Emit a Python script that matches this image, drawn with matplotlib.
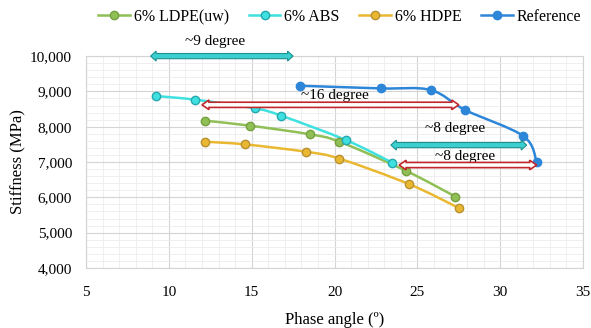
import numpy as np
import matplotlib.pyplot as plt
from matplotlib.patches import Polygon, PathPatch
from matplotlib.path import Path
from matplotlib.lines import Line2D
from matplotlib.ticker import MultipleLocator, FuncFormatter

plt.rcParams['font.family'] = ['Liberation Serif', 'DejaVu Serif']

#---- Data

ldpe_x = [12.2, 14.9, 18.5, 20.3, 24.3, 27.3]
ldpe_y = [8170, 8030, 7785, 7575, 6755, 6020]

abs_x = [9.2, 11.6, 15.2, 16.8, 20.7, 23.5]
abs_y = [8870, 8765, 8520, 8310, 7620, 6980]

hdpe_x = [12.2, 14.6, 18.3, 20.3, 24.5, 27.5]
hdpe_y = [7575, 7500, 7290, 7095, 6375, 5700]

ref_x = [17.9, 22.8, 25.8, 27.9, 31.4, 32.2]
ref_y = [9160, 9085, 9040, 8470, 7735, 7010]

# annotation arrows: (x_start, x_end, y, label, label_x, label_y, style)
arrows = [
    (8.9, 17.5, 10000, '~9 degree', 12.8, 10400, 'cyan'),
    (12.0, 27.5, 8620, '~16 degree', 20.0, 8890, 'red'),
    (23.4, 31.6, 7480, '~8 degree', 27.3, 7960, 'cyan'),
    (23.9, 32.2, 6915, '~8 degree', 27.9, 7150, 'red'),
]

#---- Smoothed line through the points (Catmull-Rom as cubic Bezier)

def smooth_path(x, y):
    p = np.column_stack((x, y)).astype(float)
    verts = [p[0]]
    codes = [Path.MOVETO]
    n = len(p)
    for i in range(n - 1):
        p0 = p[i - 1] if i > 0 else p[i]
        p3 = p[i + 2] if i + 2 < n else p[i + 1]
        c1 = p[i] + (p[i + 1] - p0) / 6.0
        c2 = p[i + 1] - (p3 - p[i]) / 6.0
        verts += [c1, c2, p[i + 1]]
        codes += [Path.CURVE4] * 3
    return Path(verts, codes)

#---- Double headed block arrow built in pixel space

def block_arrow(fig, ax, x0, x1, y, shaft, head_w, head_l, fc, ec, lw):
    p0 = ax.transData.transform((x0, y))
    p1 = ax.transData.transform((x1, y))
    yc = p0[1]
    a, b = p0[0], p1[0]
    pts = [(a, yc), (a + head_l, yc + head_w), (a + head_l, yc + shaft),
           (b - head_l, yc + shaft), (b - head_l, yc + head_w), (b, yc),
           (b - head_l, yc - head_w), (b - head_l, yc - shaft),
           (a + head_l, yc - shaft), (a + head_l, yc - head_w)]
    poly = Polygon(pts, closed=True, transform=None, facecolor=fc,
                   edgecolor=ec, lw=lw, zorder=6, clip_on=False)
    fig.patches.append(poly)


if __name__ == '__main__':

    fig = plt.figure(figsize=(5.91, 3.28), dpi=100)
    ax = fig.add_axes([0.1455, 0.183, 0.841, 0.646])

    ax.set_xlim(5, 35)
    ax.set_ylim(4000, 10000)
    ax.xaxis.set_major_locator(MultipleLocator(5))
    ax.xaxis.set_minor_locator(MultipleLocator(1))
    ax.yaxis.set_major_locator(MultipleLocator(1000))
    ax.yaxis.set_minor_locator(MultipleLocator(200))
    ax.yaxis.set_major_formatter(FuncFormatter(lambda v, p: f'{int(v):,}'))

    ax.grid(which='major', color='#d4d4d4', lw=0.8)
    ax.grid(which='minor', color='#ececec', lw=0.6)
    ax.set_axisbelow(True)
    ax.tick_params(which='both', length=0, labelsize=11)
    ax.tick_params(axis='x', pad=13)
    ax.tick_params(axis='y', pad=10)
    for s in ax.spines.values():
        s.set_color('#d4d4d4')
        s.set_linewidth(0.8)

    series = [
        (ldpe_x, ldpe_y, '6% LDPE(uw)', '#8fbf55', '#76a040'),
        (abs_x, abs_y, '6% ABS', '#3fe0e0', '#25a8b0'),
        (hdpe_x, hdpe_y, '6% HDPE', '#eab830', '#b89030'),
        (ref_x, ref_y, 'Reference', '#2e86d8', '#2e86d8'),
    ]
    handles = []
    for x, y, lab, c, ec in series:
        ax.add_patch(PathPatch(smooth_path(x, y), fill=False, edgecolor=c,
                               lw=1.8, zorder=4))
        ax.plot(x, y, 'o', ms=6, mfc=c, mec=ec, mew=1.0, zorder=5)
        handles.append(Line2D([], [], color=c, lw=1.8, marker='o', ms=6,
                              mfc=c, mec=ec, mew=1.0, label=lab))

    ax.set_xlabel('Phase angle (º)', fontsize=12, labelpad=9)
    ax.set_ylabel('Stiffness (MPa)', fontsize=12, labelpad=3)

    fig.legend(handles=handles, loc='center', bbox_to_anchor=(0.575, 0.948),
               ncol=4, frameon=False, fontsize=11.5, handlelength=2.0,
               columnspacing=1.2, handletextpad=0.25)

    for x0, x1, y, lab, lx, ly, st in arrows:
        if st == 'cyan':
            block_arrow(fig, ax, x0, x1, y, 2.6, 5.0, 5.5,
                        '#3ccfcf', '#1f8f8f', 0.8)
        else:
            block_arrow(fig, ax, x0, x1, y, 2.6, 4.8, 7.0,
                        'white', '#c0282c', 1.2)
        ax.text(lx, ly, lab, fontsize=11, ha='center', va='center',
                zorder=7, clip_on=False)

    plt.savefig('out.png', dpi=100)
